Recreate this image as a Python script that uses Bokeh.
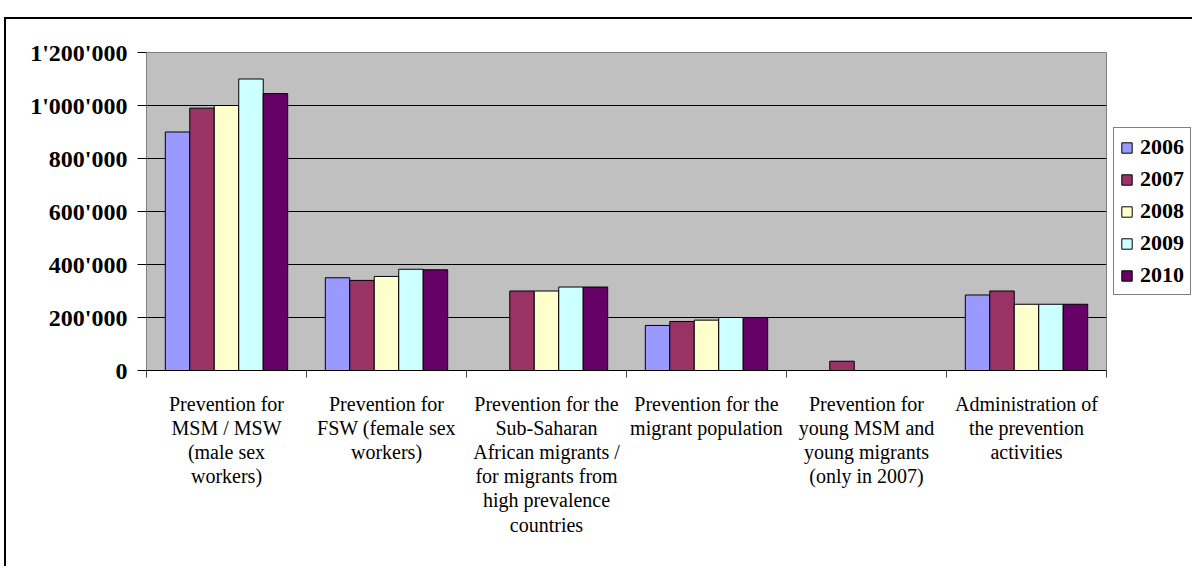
import math
from bokeh.plotting import figure
from bokeh.layouts import row
from bokeh.models import (ColumnDataSource, FixedTicker, CustomJSTickFormatter,
                          Legend, LegendItem, Range1d)
from bokeh.transform import dodge
from bokeh.embed import file_html
from bokeh.resources import INLINE

nan = float("nan")

categories = [
    "Prevention for\nMSM / MSW\n(male sex\nworkers)",
    "Prevention for\nFSW (female sex\nworkers)",
    "Prevention for the\nSub-Saharan\nAfrican migrants /\nfor migrants from\nhigh prevalence\ncountries",
    "Prevention for the\nmigrant population",
    "Prevention for\nyoung MSM and\nyoung migrants\n(only in 2007)",
    "Administration of\nthe prevention\nactivities",
]
years = ["2006", "2007", "2008", "2009", "2010"]
v2006 = [900000, 350000, nan, 170000, nan, 285000]
v2007 = [990000, 340000, 300000, 185000, 35000, 300000]
v2008 = [1000000, 355000, 300000, 190000, nan, 250000]
v2009 = [1100000, 382000, 315000, 200000, nan, 250000]
v2010 = [1045000, 380000, 315000, 200000, nan, 250000]
colors = ["#9999FF", "#993366", "#FFFFCC", "#CCFFFF", "#660066"]
y_ticks = [0, 200000, 400000, 600000, 800000, 1000000, 1200000]

series = [v2006, v2007, v2008, v2009, v2010]
centers = [i + 0.5 for i in range(len(categories))]
data = {"x": centers}
for y, s in zip(years, series):
    data[y] = s
source = ColumnDataSource(data)

FW, FH = 960, 318
TOP, BOTTOM = 33, 196
p = figure(output_backend="svg", toolbar_location=None,
           frame_width=FW, frame_height=FH,
           x_range=Range1d(0, len(categories)), y_range=Range1d(0, 1200000),
           min_border_left=140, min_border_top=TOP, min_border_bottom=BOTTOM,
           min_border_right=6)

p.background_fill_color = "#C0C0C0"
p.border_fill_color = "white"
p.outline_line_color = "#808080"

bw = 0.153
offsets = [-2 * bw, -bw, 0, bw, 2 * bw]
for y, c, off in zip(years, colors, offsets):
    p.vbar(x=dodge("x", off, range=p.x_range), top=y, width=bw, bottom=0,
           source=source, fill_color=c, line_color="black", line_width=1)

# grid
p.xgrid.visible = False
p.ygrid.ticker = FixedTicker(ticks=y_ticks)
p.ygrid.grid_line_color = "black"
p.ygrid.grid_line_width = 1

# y axis
p.yaxis.ticker = FixedTicker(ticks=y_ticks)
p.yaxis.formatter = CustomJSTickFormatter(
    code="return Math.round(tick).toString().replace(/\\B(?=(\\d{3})+(?!\\d))/g, \"'\");")
p.yaxis.major_label_text_font = "Liberation Serif"
p.yaxis.major_label_text_font_style = "bold"
p.yaxis.major_label_text_font_size = "24px"
p.yaxis.major_label_text_color = "black"
p.yaxis.major_tick_out = 9
p.yaxis.major_tick_in = 0
p.yaxis.minor_tick_line_color = None
p.yaxis.major_label_standoff = 10
p.yaxis.axis_line_color = "#808080"
p.yaxis.major_tick_line_color = "black"

# x axis
p.xaxis.ticker = FixedTicker(ticks=centers,
                             minor_ticks=list(range(len(categories) + 1)))
p.xaxis.major_label_overrides = {c: lab for c, lab in zip(centers, categories)}
p.xaxis.major_tick_line_color = None
p.xaxis.major_tick_out = 0
p.xaxis.major_tick_in = 0
p.xaxis.minor_tick_out = 7
p.xaxis.minor_tick_in = 0
p.xaxis.minor_tick_line_color = "#404040"
p.xaxis.axis_line_color = "black"
p.xaxis.major_label_text_font = "Liberation Serif"
p.xaxis.major_label_text_font_size = "20px"
p.xaxis.major_label_text_color = "black"
p.xaxis.major_label_text_line_height = 1.1
p.xaxis.major_label_standoff = 15
p.xaxis.major_label_orientation = "horizontal"

# legend panel (separate small figure; its frame is aligned with the main frame)
lf = figure(output_backend="svg", toolbar_location=None, width=80,
            height=TOP + FH + BOTTOM,
            min_border=0, x_range=Range1d(0, 1), y_range=Range1d(0, 1))
lf.axis.visible = False
lf.grid.visible = False
lf.outline_line_color = None
lf.background_fill_color = "white"
lf.border_fill_color = "white"
items = []
for y, c in zip(years, colors):
    r = lf.vbar(x=[0.5], top=[nan], width=0.1, fill_color=c, line_color="black")
    items.append(LegendItem(label=y, renderers=[r]))
legend = Legend(items=items, location="center",
                label_text_font="Liberation Serif", label_text_font_style="bold",
                label_text_font_size="22px", label_text_color="black",
                glyph_width=13, glyph_height=13, label_height=20,
                label_standoff=7, spacing=6, padding=6, margin=0,
                border_line_color="black", border_line_width=1,
                background_fill_color="white")
lf.add_layout(legend, "center")

layout = row(p, lf, spacing=0)
# outer chart-area border: only its left and top edges are inside the picture
layout.styles = {"border-left": "2px solid black", "border-top": "2px solid black",
                 "position": "relative", "left": "4px", "top": "17px"}

open("out.html", "w").write(file_html(layout, INLINE))
